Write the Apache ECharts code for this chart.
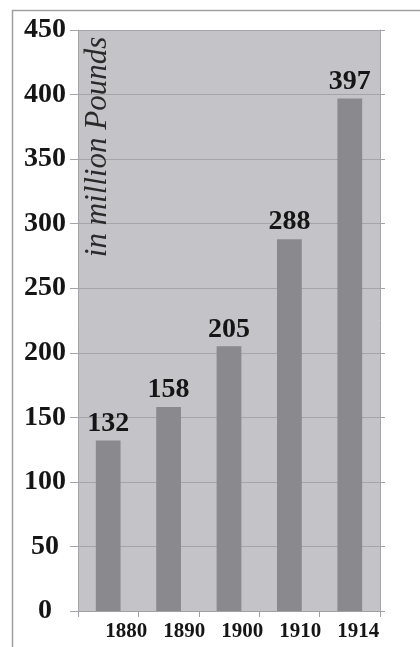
<!DOCTYPE html>
<html>
<head>
<meta charset="utf-8">
<script src="https://cdn.jsdelivr.net/npm/echarts@6/dist/echarts.min.js"></script>
<style>
html,body{margin:0;padding:0;background:#fff;}
#c{width:420px;height:647px;}
</style>
</head>
<body>
<div id="c"></div>
<script>
const categories = ['1880', '1890', '1900', '1910', '1914'];
const values = [132, 158, 205, 288, 397];
const yMin = 0, yMax = 450, yStep = 50;
const unitLabel = 'in million Pounds';

const serif = 'Liberation Serif';
const chart = echarts.init(document.getElementById('c'));
chart.setOption({
  animation: false,
  backgroundColor: '#ffffff',
  grid: [
    { left: 78, top: 30, width: 302, height: 581, show: true, backgroundColor: '#c4c4c8', borderWidth: 0 },
    { left: 97.3, top: 30, width: 290, height: 581, show: false }
  ],
  xAxis: [
    {
      type: 'category', data: categories, gridIndex: 0,
      boundaryGap: true,
      axisLine: { show: true, lineStyle: { color: '#a0a0a4', width: 1 } },
      axisTick: { show: true, alignWithLabel: false, length: 6, lineStyle: { color: '#a0a0a4' } },
      axisLabel: { show: false }
    },
    {
      type: 'category', data: categories, gridIndex: 1,
      axisLine: { show: false }, axisTick: { show: false },
      axisLabel: { show: true, margin: 10, fontFamily: serif, fontWeight: 'bold', fontSize: 21, color: '#151515' }
    }
  ],
  yAxis: [
    {
      type: 'value', gridIndex: 0, min: yMin, max: yMax, interval: yStep,
      axisLine: { show: true, lineStyle: { color: '#a5a5a9' } },
      axisTick: { show: true, length: 8, lineStyle: { color: '#a5a5a9' } },
      splitLine: { show: true, lineStyle: { color: '#a5a5a9', width: 1 } },
      axisLabel: { show: true, align: 'center', margin: 33, padding: [8, 0, 0, 0], fontFamily: serif, fontWeight: 'bold', fontSize: 28, color: '#151515' }
    },
    {
      type: 'value', gridIndex: 0, position: 'right', min: yMin, max: yMax, interval: yStep,
      axisLine: { show: true, lineStyle: { color: '#a5a5a9' } },
      axisTick: { show: true, length: 5, lineStyle: { color: '#a5a5a9' } },
      splitLine: { show: false },
      axisLabel: { show: false }
    },
    { type: 'value', gridIndex: 1, show: false, min: yMin, max: yMax }
  ],
  series: [{
    type: 'bar', xAxisIndex: 0, yAxisIndex: 0,
    data: values,
    barWidth: '41%',
    itemStyle: { color: '#8a8a8e' },
    label: { show: true, position: 'top', distance: 3, fontFamily: serif, fontWeight: 'bold', fontSize: 28, color: '#151515' }
  }],
  graphic: [
    { type: 'rect', z: -1, shape: { x: 12.5, y: 10.5, width: 500, height: 700 }, style: { fill: 'none', stroke: '#a0a0a0', lineWidth: 1.5 } },
    { type: 'text', x: 98, y: 147, rotation: Math.PI / 2, z: 10,
      style: { text: unitLabel, fill: '#2a2a2a', font: 'italic 31px "Liberation Serif"', textAlign: 'center', textVerticalAlign: 'middle' } }
  ]
});
</script>
</body>
</html>
